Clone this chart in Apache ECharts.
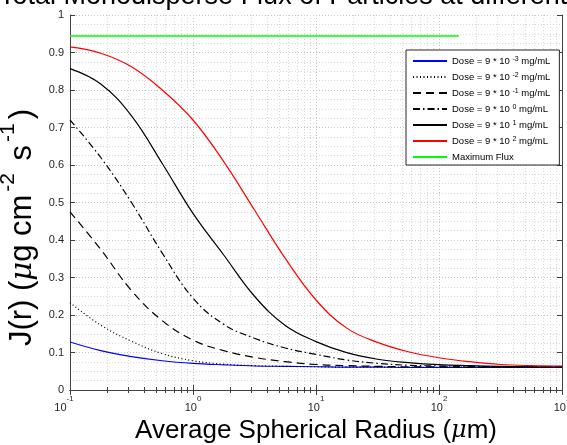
<!DOCTYPE html>
<html>
<head>
<meta charset="utf-8">
<script src="https://cdn.jsdelivr.net/npm/echarts@6/dist/echarts.min.js"></script>
<style>
  html, body { margin: 0; padding: 0; background: #ffffff; }
  #chart { width: 567px; height: 445px; }
</style>
</head>
<body>
<div id="chart"></div>
<script>
// Radius samples (µm), quarter-decade spacing from 0.1 to 1000
const radius = [0.1, 0.1778, 0.3162, 0.5623, 1, 1.778, 3.162, 5.623, 10,
                17.78, 31.62, 56.23, 100, 177.8, 316.2, 562.3, 1000];

// Flux J(r) for each dose (µg cm^-2 s^-1)
const fluxDoseE3 = [0.128, 0.105, 0.089, 0.078, 0.071, 0.067, 0.064, 0.063, 0.062,
                    0.061, 0.061, 0.060, 0.060, 0.060, 0.060, 0.060, 0.060];
const fluxDoseE2 = [0.233, 0.173, 0.130, 0.097, 0.078, 0.069, 0.065, 0.063, 0.062,
                    0.061, 0.061, 0.061, 0.061, 0.061, 0.061, 0.061, 0.061];
const fluxDoseE1 = [0.475, 0.375, 0.265, 0.185, 0.133, 0.105, 0.087, 0.0755, 0.068,
                    0.065, 0.063, 0.062, 0.062, 0.061, 0.061, 0.061, 0.061];
const fluxDose0  = [0.720, 0.620, 0.500, 0.365, 0.245, 0.175, 0.138, 0.112, 0.095,
                    0.080, 0.071, 0.066, 0.064, 0.063, 0.062, 0.062, 0.062];
const fluxDose1  = [0.857, 0.816, 0.731, 0.604, 0.471, 0.360, 0.250, 0.172, 0.129,
                    0.0995, 0.082, 0.073, 0.0675, 0.065, 0.063, 0.062, 0.062];
const fluxDose2  = [0.915, 0.898, 0.862, 0.800, 0.720, 0.609, 0.480, 0.351, 0.240,
                    0.165, 0.127, 0.102, 0.086, 0.0755, 0.068, 0.065, 0.064];

// Maximum attainable flux
const maxFluxRadius = [0.1, 145];
const maxFluxValue = [0.944, 0.944];

// Legend entries: exponent of the dose, series data, colour, dash pattern
const doseExponents = ['-3', '-2', '-1', '0', '1', '2'];
const doseColors = ['#0000ff', '#000000', '#000000', '#000000', '#000000', '#ff0000'];
const doseDashes = ['solid', [1, 2.5], [8, 5], [7, 3, 1.5, 3], 'solid', 'solid'];
const doseData = [fluxDoseE3, fluxDoseE2, fluxDoseE1, fluxDose0, fluxDose1, fluxDose2];
const maxFluxName = 'Maximum Flux';

const textColor = '#262626';
const axisColor = '#404040';
const gridMajor = '#c4c4c4';
const gridMinor = '#d9d9d9';

const doseName = e => 'Dose = 9 * 10^' + e + ' mg/mL';
const legendRich = {};
doseExponents.forEach(e => { legendRich[doseName(e)] = 'Dose = 9 * 10 {sup|' + e + '} mg/mL'; });

const pairs = arr => radius.map((r, i) => [r, arr[i]]);

const series = doseExponents.map((e, k) => ({
  name: doseName(e),
  type: 'line',
  data: pairs(doseData[k]),
  smooth: 0.4,
  symbol: 'none',
  lineStyle: { color: doseColors[k], width: k === 0 ? 1.1 : 1.2, type: doseDashes[k] },
  itemStyle: { color: doseColors[k] },
  z: 3
}));
series.push({
  name: maxFluxName,
  type: 'line',
  data: maxFluxRadius.map((r, i) => [r, maxFluxValue[i]]),
  symbol: 'none',
  lineStyle: { color: '#00ff00', width: 1.5 },
  itemStyle: { color: '#00ff00' },
  z: 3
});

// Decade labels as 10 with a raised exponent; the negative one sits a little left
const expLabel = v => {
  const p = Math.round(Math.log10(v));
  return '{base|10}{' + (p < 0 ? 'supNeg' : 'sup') + '|' + p + '}';
};

const chart = echarts.init(document.getElementById('chart'), null, { renderer: 'canvas' });
chart.setOption({
  animation: false,
  backgroundColor: '#ffffff',
  title: {
    text: 'Total Monodisperse Flux of Particles at different Doses',
    left: -6,
    top: -22,
    textStyle: { fontFamily: 'Liberation Sans', fontSize: 27, fontWeight: 'normal', color: '#000000' }
  },
  grid: { left: 70, top: 15, width: 492, height: 375, outerBoundsMode: 'none' },
  legend: {
    orient: 'vertical',
    left: 406,
    top: 50,
    padding: [6, 9, 3, 6],
    itemWidth: 34,
    itemHeight: 12,
    itemGap: 6,
    backgroundColor: '#ffffff',
    borderColor: '#262626',
    borderWidth: 1,
    itemStyle: { opacity: 0 },
    data: series.map(s => s.name),
    formatter: name => legendRich[name] || name,
    textStyle: {
      fontFamily: 'Liberation Sans', fontSize: 9.5, color: '#000000',
      rich: { sup: { fontSize: 7, lineHeight: 7, verticalAlign: 'top' } }
    }
  },
  xAxis: [{
    type: 'log',
    logBase: 10,
    min: 0.1,
    max: 1000,
    position: 'bottom',
    name: 'Average Spherical Radius ({mu|μ}m)',
    nameLocation: 'middle',
    nameGap: 25,
    nameTextStyle: {
      fontFamily: 'Liberation Sans', fontSize: 26, color: '#000000',
      rich: { mu: { fontFamily: 'DejaVu Serif', fontStyle: 'italic', fontSize: 24 } }
    },
    axisLine: { show: true, lineStyle: { color: axisColor, width: 1 } },
    axisTick: { show: true, inside: true, length: 5, lineStyle: { color: axisColor } },
    minorTick: { show: true, splitNumber: 9, length: 3, lineStyle: { color: axisColor } },
    splitLine: { show: true, lineStyle: { color: gridMajor, type: [1, 2] } },
    minorSplitLine: { show: true, lineStyle: { color: gridMinor, type: [1, 2] } },
    axisLabel: {
      margin: 5,
      formatter: expLabel,
      rich: {
        base: { fontFamily: 'Liberation Sans', fontSize: 11, color: textColor, lineHeight: 18, verticalAlign: 'bottom' },
        sup: { fontFamily: 'Liberation Sans', fontSize: 8, color: textColor, lineHeight: 8, verticalAlign: 'top' },
        supNeg: { fontFamily: 'Liberation Sans', fontSize: 8, color: textColor, lineHeight: 8, verticalAlign: 'top', padding: [0, 12, 0, 0] }
      }
    }
  }, {
    type: 'log',
    logBase: 10,
    min: 0.1,
    max: 1000,
    position: 'top',
    axisLine: { show: true, lineStyle: { color: axisColor, width: 1 } },
    axisTick: { show: true, inside: true, length: 5, lineStyle: { color: axisColor } },
    minorTick: { show: true, splitNumber: 9, length: 3, lineStyle: { color: axisColor } },
    splitLine: { show: false },
    axisLabel: { show: false }
  }],
  yAxis: [{
    type: 'value',
    min: 0,
    max: 1,
    interval: 0.1,
    position: 'left',
    name: '{b|J(r) (}{mu|μ}{b|g cm}{sup|-2}{b| s}{sup|-1}{b|)}',
    nameLocation: 'middle',
    nameGap: 16,
    nameTextStyle: {
      color: '#000000',
      padding: [0, 50, 0, 0],
      rich: {
        b: { fontFamily: 'Liberation Sans', fontSize: 31, color: '#000000', lineHeight: 40, verticalAlign: 'bottom' },
        mu: { fontFamily: 'DejaVu Serif', fontStyle: 'italic', fontSize: 29, color: '#000000', lineHeight: 40, verticalAlign: 'bottom' },
        sup: { fontFamily: 'Liberation Sans', fontSize: 21, color: '#000000', lineHeight: 24, verticalAlign: 'top', padding: [0, 4, 0, 3] }
      }
    },
    axisLine: { show: true, lineStyle: { color: axisColor, width: 1 } },
    axisTick: { show: true, inside: true, length: 5, lineStyle: { color: axisColor } },
    minorTick: { show: false, splitNumber: 4 },
    splitLine: { show: true, lineStyle: { color: gridMajor, type: [1, 2] } },
    minorSplitLine: { show: true, lineStyle: { color: gridMinor, type: [1, 2] } },
    axisLabel: {
      margin: 6,
      fontFamily: 'Liberation Sans', fontSize: 11, color: textColor,
      formatter: v => String(Math.round(v * 10) / 10)
    }
  }, {
    type: 'value',
    min: 0,
    max: 1,
    interval: 0.1,
    position: 'right',
    axisLine: { show: true, lineStyle: { color: axisColor, width: 1 } },
    axisTick: { show: true, inside: true, length: 5, lineStyle: { color: axisColor } },
    splitLine: { show: false },
    axisLabel: { show: false }
  }],
  series: series
});
</script>
</body>
</html>
